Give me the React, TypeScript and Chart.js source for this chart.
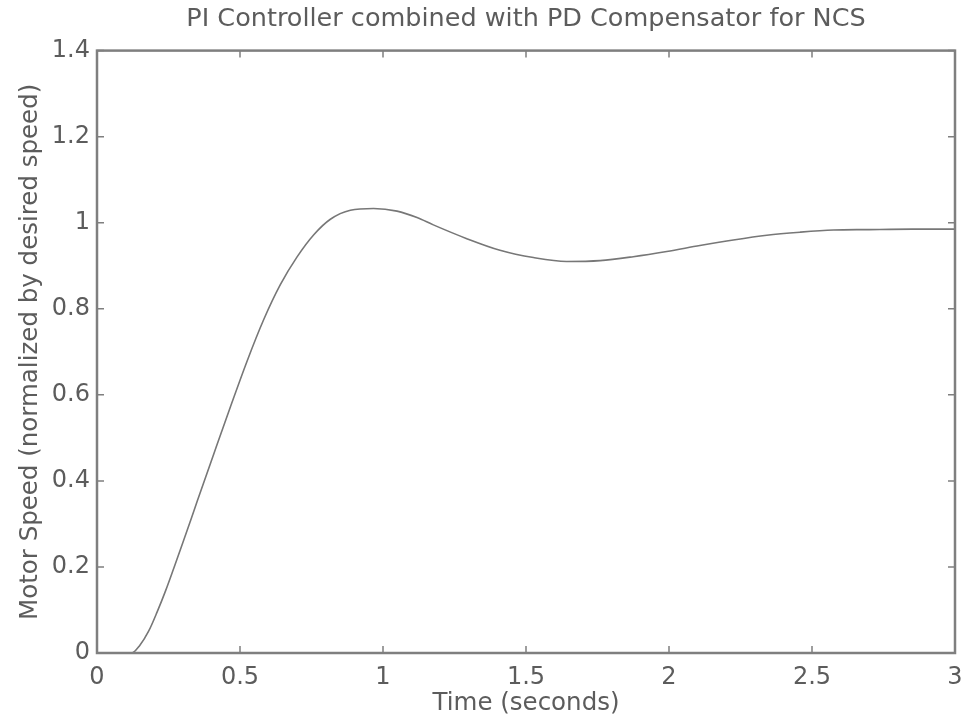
import React, { useEffect, useRef } from "react";
import { Chart, registerables } from "chart.js";

Chart.register(...registerables);

const titleText = "PI Controller combined with PD Compensator for NCS";
const xTitle = "Time (seconds)";
const yTitle = "Motor Speed (normalized by desired speed)";

const timeValues = [
  0, 0.121, 0.15, 0.18, 0.21, 0.24, 0.27, 0.3, 0.33, 0.35, 0.408, 0.466, 0.524,
  0.583, 0.641, 0.699, 0.758, 0.816, 0.886, 0.967, 1.049, 1.119, 1.176, 1.293,
  1.409, 1.526, 1.642, 1.759, 1.875, 1.992, 2.108, 2.225, 2.342, 2.458, 2.575,
  2.692, 2.85, 3.0,
];
const speedValues = [
  0, 0, 0.018, 0.05, 0.095, 0.145, 0.2, 0.256, 0.313, 0.352, 0.462, 0.571,
  0.677, 0.775, 0.856, 0.92, 0.972, 1.008, 1.029, 1.033, 1.027, 1.012, 0.995,
  0.963, 0.936, 0.919, 0.91, 0.912, 0.921, 0.933, 0.947, 0.96, 0.971, 0.978,
  0.983, 0.984, 0.985, 0.985,
];

const xTicks = [0, 0.5, 1, 1.5, 2, 2.5, 3];
const yTicks = [0, 0.2, 0.4, 0.6, 0.8, 1, 1.2, 1.4];

const FONT = "'DejaVu Sans', sans-serif";
const TEXT_COLOR = "#5c5c5c";
const FRAME_COLOR = "#7f7f7f";

const framePlugin = {
  id: "matlabFrame",
  afterDatasetsDraw(chart: any) {
    const { ctx, chartArea } = chart;
    const { left, right, top, bottom } = chartArea;
    const xs = chart.scales.x;
    const ys = chart.scales.y;
    const tl = 7;
    ctx.save();
    ctx.strokeStyle = FRAME_COLOR;
    ctx.lineWidth = 1.5;
    ctx.beginPath();
    xTicks.forEach((v) => {
      const px = xs.getPixelForValue(v);
      ctx.moveTo(px, bottom);
      ctx.lineTo(px, bottom - tl);
      ctx.moveTo(px, top);
      ctx.lineTo(px, top + tl);
    });
    yTicks.forEach((v) => {
      const py = ys.getPixelForValue(v);
      ctx.moveTo(left, py);
      ctx.lineTo(left + tl, py);
      ctx.moveTo(right, py);
      ctx.lineTo(right - tl, py);
    });
    ctx.stroke();
    ctx.lineWidth = 2.5;
    ctx.strokeRect(left, top, right - left, bottom - top);
    ctx.restore();
  },
};

function fmt(v: number) {
  return String(Number(v.toFixed(2)));
}

export default function App() {
  const ref = useRef<HTMLCanvasElement | null>(null);

  useEffect(() => {
    if (!ref.current) return;
    const points = timeValues.map((t, i) => ({ x: t, y: speedValues[i] }));
    const chart = new Chart(ref.current, {
      type: "line",
      data: {
        datasets: [
          {
            data: points,
            borderColor: "#777777",
            borderWidth: 1.6,
            pointRadius: 0,
            cubicInterpolationMode: "monotone",
            fill: false,
          },
        ],
      },
      options: {
        animation: false,
        responsive: false,
        maintainAspectRatio: false,
        layout: { padding: { left: 0, right: 11, top: 0, bottom: 0 } },
        plugins: {
          legend: { display: false },
          tooltip: { enabled: false },
          title: {
            display: true,
            fullSize: false,
            text: titleText,
            color: TEXT_COLOR,
            font: { family: FONT, size: 25.5, weight: "normal", lineHeight: 1.2 },
            padding: { top: 4, bottom: 16 },
          },
        },
        scales: {
          x: {
            type: "linear",
            min: 0,
            max: 3,
            afterBuildTicks: (scale: any) => {
              scale.ticks = xTicks.map((v) => ({ value: v }));
            },
            afterFit: (scale: any) => {
              scale.height = 71;
              scale.paddingLeft = 0;
              scale.paddingRight = 0;
            },
            grid: { display: false, drawTicks: false },
            border: { display: false },
            ticks: {
              color: TEXT_COLOR,
              font: { family: FONT, size: 24 },
              padding: 10,
              maxRotation: 0,
              autoSkip: false,
              callback: (v: any) => fmt(Number(v)),
            },
            title: {
              display: true,
              text: xTitle,
              color: TEXT_COLOR,
              font: { family: FONT, size: 24.5, lineHeight: 1.2 },
              padding: { top: 0, bottom: 6 },
            },
          },
          y: {
            type: "linear",
            min: 0,
            max: 1.4,
            afterBuildTicks: (scale: any) => {
              scale.ticks = yTicks.map((v) => ({ value: v }));
            },
            afterFit: (scale: any) => {
              scale.width = 97;
              scale.paddingTop = 0;
              scale.paddingBottom = 0;
            },
            grid: { display: false, drawTicks: false },
            border: { display: false },
            ticks: {
              color: TEXT_COLOR,
              font: { family: FONT, size: 24 },
              padding: 7,
              autoSkip: false,
              callback: (v: any) => fmt(Number(v)),
            },
            title: {
              display: true,
              text: yTitle,
              color: TEXT_COLOR,
              font: { family: FONT, size: 24.5, lineHeight: 1.2 },
              padding: { top: 15.6, bottom: 0 },
            },
          },
        },
      },
      plugins: [framePlugin],
    } as any);
    return () => chart.destroy();
  }, []);

  return (
    <div
      style={{
        position: "fixed",
        left: 0,
        top: 0,
        width: 966,
        height: 724,
        background: "#ffffff",
      }}
    >
      <canvas ref={ref} width={966} height={724} style={{ display: "block" }} />
    </div>
  );
}
